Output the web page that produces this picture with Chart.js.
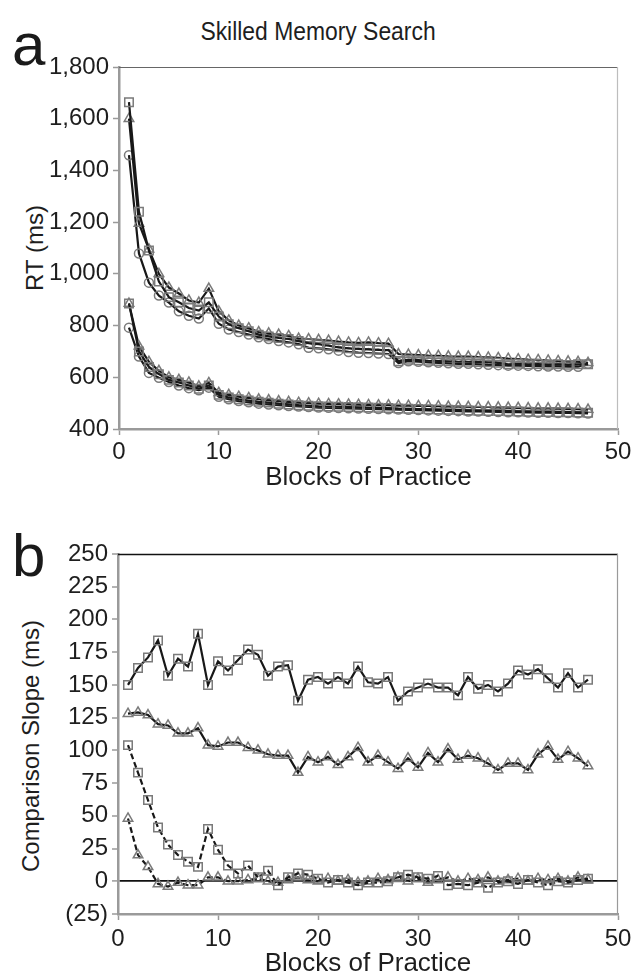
<!DOCTYPE html>
<html>
<head>
<meta charset="utf-8">
<script src="https://cdn.jsdelivr.net/npm/chart.js@4.4.0/dist/chart.umd.min.js"></script>
<style>
  body { margin: 0; background: #fff; width: 638px; height: 980px; position: relative; overflow: hidden;
    font-family: "Liberation Sans", Arial, sans-serif; color: #1e1e1e; }
  canvas { position: absolute; left: 0; }
  #rtChart { top: 0; }
  #slopeChart { top: 500px; }
  .txt { position: absolute; line-height: 1; white-space: nowrap; }
  .panel { font-size: 60px; color: #1a1a1a; }
  .ytitle { font-size: 24px; transform: translate(-50%, -50%) rotate(-90deg); }
</style>
</head>
<body>
<div class="txt" style="left:318px; top:18px; font-size:26px; transform:translateX(-50%) scaleX(0.88);">Skilled Memory Search</div>
<div class="txt panel" style="left:12px; top:15px;">a</div>
<div class="txt panel" style="left:12px; top:526px;">b</div>
<div class="txt ytitle" style="left:35px; top:248px;">RT (ms)</div>
<div class="txt ytitle" style="left:31px; top:746px;">Comparison Slope (ms)</div>
<canvas id="rtChart" width="638" height="500"></canvas>
<canvas id="slopeChart" width="638" height="480"></canvas>
<script>
const blocks = [1, 2, 3, 4, 5, 6, 7, 8, 9, 10, 11, 12, 13, 14, 15, 16, 17, 18, 19, 20, 21, 22, 23, 24,
  25, 26, 27, 28, 29, 30, 31, 32, 33, 34, 35, 36, 37, 38, 39, 40, 41, 42, 43, 44, 45, 46, 47];

// panel a: RT, upper group
const rtHighSquare = [1664, 1240, 1090, 970, 910, 890, 868, 858, 890, 835, 805, 790, 778, 765, 758, 752,
  748, 740, 732, 728, 722, 716, 712, 710, 708, 706, 705, 662, 668, 666, 664, 663, 662, 660, 660, 659,
  658, 656, 650, 652, 650, 651, 648, 650, 648, 650, 650];
const rtHighTriangle = [1600, 1195, 1095, 1000, 947, 924, 897, 889, 943, 855, 820, 800, 790, 775, 770, 765,
  760, 750, 748, 745, 742, 738, 735, 733, 735, 732, 730, 690, 688, 686, 684, 683, 681, 680, 680, 678,
  677, 675, 672, 670, 668, 667, 665, 663, 662, 660, 656];
const rtHighCircle = [1459, 1079, 966, 916, 889, 855, 838, 827, 866, 807, 785, 775, 765, 755, 748, 740,
  735, 728, 714, 712, 708, 703, 698, 695, 694, 692, 690, 655, 662, 660, 658, 656, 654, 652, 652, 650,
  648, 647, 645, 645, 644, 643, 642, 642, 641, 641, 652];
// panel a: RT, lower group
const rtLowSquare = [885, 700, 640, 612, 590, 580, 568, 556, 568, 532, 522, 515, 510, 505, 502, 498,
  495, 492, 490, 488, 487, 486, 485, 484, 483, 482, 481, 479, 478, 477, 476, 475, 474, 473, 472, 471,
  470, 470, 469, 468, 467, 466, 466, 465, 465, 464, 463];
const rtLowTriangle = [885, 720, 660, 625, 600, 590, 580, 565, 578, 540, 532, 525, 520, 515, 512, 508,
  505, 502, 500, 498, 497, 496, 495, 494, 493, 492, 492, 490, 490, 489, 489, 488, 487, 487, 486, 485,
  485, 484, 483, 482, 481, 480, 480, 479, 478, 477, 475];
const rtLowCircle = [792, 680, 617, 598, 582, 568, 558, 550, 560, 525, 515, 508, 503, 498, 495, 492,
  489, 487, 485, 483, 482, 481, 480, 479, 478, 477, 476, 475, 474, 473, 472, 471, 470, 469, 468, 468,
  467, 466, 465, 465, 464, 463, 463, 462, 462, 461, 460];

// panel b: comparison slope
const slopeSquare = [150, 163, 171, 184, 157, 170, 164, 189, 150, 168, 161, 169, 177, 173, 157, 164,
  165, 138, 154, 156, 151, 156, 151, 164, 152, 151, 156, 138, 145, 148, 151, 148, 148, 142, 156, 147,
  150, 145, 151, 161, 158, 162, 155, 148, 159, 148, 154];
const slopeTriangle = [128, 129, 127, 120, 119, 113, 113, 117, 104, 103, 106, 106, 102, 100, 97, 96,
  96, 83, 95, 91, 95, 89, 95, 102, 91, 96, 91, 86, 94, 87, 98, 91, 101, 93, 96, 94,
  90, 85, 90, 90, 85, 97, 103, 93, 99, 94, 88];
const slopeSquareDashed = [104, 83, 62, 41, 28, 20, 15, 11, 40, 24, 12, 6, 12, 3, 8, -3,
  3, 6, 5, 2, -1, 1, -1, -3, -1, -1, 0, 3, 5, 3, 2, 4, -3, -2, -3, -1,
  -5, -1, 0, -2, 1, -1, -3, 0, -1, 1, 2];
const slopeTriangleDashed = [48, 20, 11, -2, -4, -1, -3, -3, 3, 3, 0, 0, 1, 2, 0, -1,
  1, 3, 1, 0, 2, 0, 1, -1, 0, 2, 1, 3, 0, 2, -1, 1, 3, 0, 2, 1,
  3, 0, 1, 2, 0, 2, 1, 2, 0, 3, 1];

const xTicks = [0, 10, 20, 30, 40, 50];
const rtTicks = [400, 600, 800, 1000, 1200, 1400, 1600, 1800];
const slopeTicks = [-25, 0, 25, 50, 75, 100, 125, 150, 175, 200, 225, 250];

Chart.defaults.font.family = "'Liberation Sans', Arial, sans-serif";
Chart.defaults.color = '#1e1e1e';

const LINE = '#181818';
const MARK = '#7a7a7a';
const AXIS = '#9a9a9a';

function pts(values) {
  return values.map((v, i) => ({ x: blocks[i], y: v }));
}

function series(values, style, dashed) {
  return {
    data: pts(values),
    borderColor: LINE,
    borderWidth: 2.2,
    borderDash: dashed ? [6, 3] : [],
    pointStyle: style,
    pointRadius: style === 'rect' ? 6 : (style === 'triangle' ? 5.5 : 4.5),
    pointBorderColor: MARK,
    pointBorderWidth: 1.5,
    pointBackgroundColor: 'rgba(0,0,0,0)',
    tension: 0
  };
}

// top and right edges of the plot box
const frame = {
  id: 'frame',
  beforeDatasetsDraw(chart, args, opts) {
    const { ctx, chartArea: a } = chart;
    ctx.save();
    ctx.lineWidth = opts.topWidth;
    ctx.strokeStyle = opts.topColor;
    ctx.beginPath();
    ctx.moveTo(a.left, a.top + 0.5);
    ctx.lineTo(a.right, a.top + 0.5);
    ctx.stroke();
    ctx.lineWidth = 1.2;
    ctx.strokeStyle = opts.rightColor;
    ctx.beginPath();
    ctx.moveTo(a.right - 0.5, a.top);
    ctx.lineTo(a.right - 0.5, a.bottom);
    ctx.stroke();
    ctx.restore();
  }
};

function xScale(height, labelPad, titlePad) {
  return {
    type: 'linear', min: 0, max: 50,
    afterBuildTicks: s => { s.ticks = xTicks.map(v => ({ value: v })); },
    ticks: { font: { size: 24 }, padding: labelPad, color: '#1e1e1e' },
    grid: { drawOnChartArea: false, tickLength: 6, tickColor: AXIS, tickWidth: 1.5 },
    border: { color: AXIS, width: 2.5 },
    title: { display: true, text: 'Blocks of Practice', font: { size: 26 }, color: '#1e1e1e',
      padding: { top: 0, bottom: titlePad } },
    afterFit: s => { s.height = height; }
  };
}

function yScale(min, max, values, width, fmt) {
  return {
    type: 'linear', min: min, max: max,
    afterBuildTicks: s => { s.ticks = values.map(v => ({ value: v })); },
    ticks: { font: { size: 24 }, padding: 4, color: '#1e1e1e', callback: fmt },
    grid: { drawOnChartArea: false, tickLength: 6, tickColor: AXIS, tickWidth: 1.5 },
    border: { color: AXIS, width: 2.5 },
    afterFit: s => { s.width = width; }
  };
}

new Chart(document.getElementById('rtChart'), {
  type: 'line',
  data: {
    datasets: [
      series(rtHighSquare, 'rect'),
      series(rtHighTriangle, 'triangle'),
      series(rtHighCircle, 'circle'),
      series(rtLowSquare, 'rect'),
      series(rtLowTriangle, 'triangle'),
      series(rtLowCircle, 'circle')
    ]
  },
  options: {
    responsive: false,
    animation: false,
    layout: { padding: { left: 0, right: 20, top: 67, bottom: 0 } },
    plugins: {
      legend: { display: false },
      tooltip: { enabled: false },
      frame: { topColor: '#666', topWidth: 1.2, rightColor: '#bdbdbd' }
    },
    scales: {
      x: xScale(71, 3, 7),
      y: yScale(400, 1800, rtTicks, 119, v => v.toLocaleString('en-US'))
    }
  },
  plugins: [frame]
});

const slopeY = yScale(-25, 250, slopeTicks, 118, v => v < 0 ? '(' + Math.abs(v) + ')' : String(v));
// zero reference line across the plot
slopeY.grid = {
  drawOnChartArea: true, tickLength: 6, tickColor: AXIS, tickWidth: 1.5,
  color: c => c.tick && c.tick.value === 0 ? '#111' : 'rgba(0,0,0,0)',
  lineWidth: c => c.tick && c.tick.value === 0 ? 1.8 : 0
};

new Chart(document.getElementById('slopeChart'), {
  type: 'line',
  data: {
    datasets: [
      series(slopeSquare, 'rect'),
      series(slopeTriangle, 'triangle'),
      series(slopeSquareDashed, 'rect', true),
      series(slopeTriangleDashed, 'triangle', true)
    ]
  },
  options: {
    responsive: false,
    animation: false,
    layout: { padding: { left: 0, right: 20, top: 54, bottom: 0 } },
    plugins: {
      legend: { display: false },
      tooltip: { enabled: false },
      frame: { topColor: '#111', topWidth: 1.6, rightColor: '#9a9a9a' }
    },
    scales: {
      x: xScale(66, 5, 1),
      y: slopeY
    }
  },
  plugins: [frame]
});
</script>
</body>
</html>
